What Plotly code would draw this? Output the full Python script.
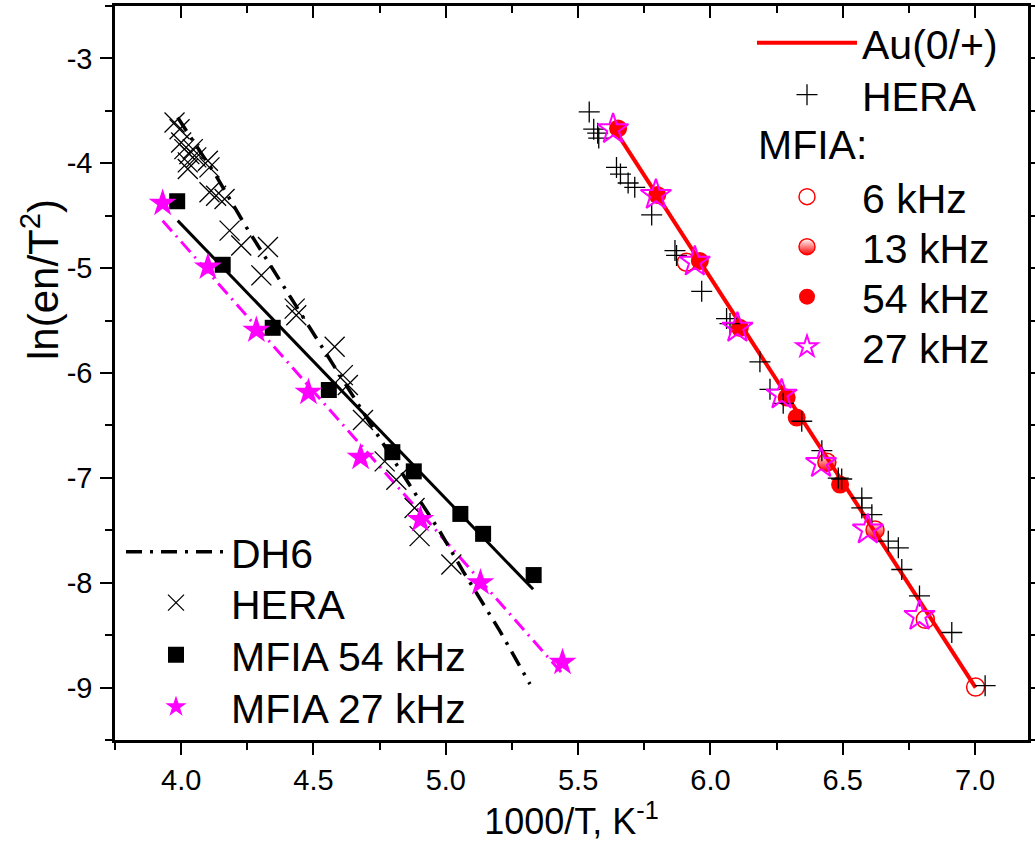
import plotly.graph_objects as go

# ---------------- Data: Au(0/+) group (right) ----------------
au_fit_x = [5.632, 7.002]
au_fit_y = [-3.656, -9.000]

hera_au_x = [5.542, 5.559, 5.574, 5.578, 5.645, 5.660, 5.689, 5.714, 5.778, 5.866,
             5.872, 5.967, 6.061, 6.074, 6.187, 6.225, 6.275, 6.345, 6.421, 6.483,
             6.496, 6.572, 6.572, 6.610, 6.672, 6.710, 6.723, 6.790, 6.912, 7.038]
hera_au_y = [-3.510, -3.675, -3.713, -3.760, -4.039, -4.103, -4.188, -4.229, -4.492, -4.832,
             -4.879, -5.221, -5.481, -5.529, -5.893, -6.156, -6.289, -6.460, -6.741, -7.002,
             -7.011, -7.192, -7.287, -7.351, -7.604, -7.667, -7.874, -8.126, -8.475, -8.982]

mfia6_x = [5.909, 6.812, 7.002]
mfia6_y = [-4.944, -8.349, -8.995]

mfia13_x = [6.440, 6.622]
mfia13_y = [-6.851, -7.497]

mfia54_au_x = [5.651, 5.799, 5.960, 6.111, 6.288, 6.326, 6.490]
mfia54_au_y = [-3.668, -4.302, -4.932, -5.569, -6.234, -6.425, -7.064]

mfia27_au_x = [5.632, 5.794, 5.941, 6.102, 6.269, 6.418, 6.595, 6.790]
mfia27_au_y = [-3.675, -4.302, -4.939, -5.569, -6.206, -6.859, -7.493, -8.317]

# ---------------- Data: DH6 group (left) ----------------
dh6_x = [3.987, 4.132, 4.246, 4.384, 4.498, 4.637, 4.750, 4.863, 4.977, 5.065, 5.204, 5.318]
dh6_y = [-3.564, -4.119, -4.609, -5.164, -5.607, -6.178, -6.622, -7.066, -7.509, -7.889, -8.459, -8.967]

hera_dh6_x = [3.975, 3.994, 4.000, 4.012, 4.031, 4.044, 4.025, 4.057, 4.101, 4.107,
              4.025, 4.107, 4.132, 4.164, 4.183, 4.227, 4.328, 4.303, 4.429, 4.435,
              4.580, 4.611, 4.630, 4.687, 4.769, 4.813, 4.882, 4.901, 5.021]
hera_dh6_y = [-3.611, -3.675, -3.801, -3.865, -3.913, -3.865, -3.991, -3.944, -3.976, -4.039,
              -4.055, -4.277, -4.309, -4.340, -4.642, -4.784, -4.799, -5.069, -5.386, -5.450,
              -5.750, -6.020, -6.115, -6.448, -6.843, -7.018, -7.287, -7.556, -7.826]

mfia54_x = [3.985, 4.157, 4.346, 4.558, 4.798, 4.879, 5.055, 5.141, 5.332]
mfia54_y = [-4.362, -4.968, -5.569, -6.162, -6.755, -6.938, -7.344, -7.534, -7.927]
fit54_x = [3.987, 5.330]
fit54_y = [-4.547, -8.063]

mfia27_x = [3.930, 4.101, 4.284, 4.481, 4.678, 4.904, 5.131, 5.441]
mfia27_y = [-4.381, -4.990, -5.592, -6.184, -6.805, -7.398, -8.000, -8.760]
fit27_x = [3.930, 5.443]
fit27_y = [-4.547, -8.872]

# ---------------- Axis ticks ----------------
x_tickvals = [4.0, 4.5, 5.0, 5.5, 6.0, 6.5, 7.0]
x_ticktext = ["4.0", "4.5", "5.0", "5.5", "6.0", "6.5", "7.0"]
y_tickvals = [-3, -4, -5, -6, -7, -8, -9]
y_ticktext = ["-3", "-4", "-5", "-6", "-7", "-8", "-9"]

FONT = "Liberation Sans, Arial, sans-serif"
RED = "#ff0000"
MAG = "#ff00ff"

# plot area in pixels (used only to place legends / labels)
PL, PR, PT, PB = 115, 1028, 6, 740


def px_x(p):
    return (p - PL) / (PR - PL)


def px_y(p):
    return (PB - p) / (PB - PT)


fig = go.Figure()

# ---- Left group ----
fig.add_trace(go.Scatter(x=fit54_x, y=fit54_y, mode="lines", showlegend=False,
                         line=dict(color="black", width=3)))
fig.add_trace(go.Scatter(x=fit27_x, y=fit27_y, mode="lines", showlegend=False,
                         line=dict(color=MAG, width=3, dash="14px,6px,2px,6px")))
fig.add_trace(go.Scatter(x=dh6_x, y=dh6_y, mode="lines", name="DH6", legend="legend7",
                         line=dict(color="black", width=3.5, dash="16px,8px,3px,8px")))
fig.add_trace(go.Scatter(x=hera_dh6_x, y=hera_dh6_y, mode="markers", name="HERA", legend="legend8",
                         marker=dict(symbol="x-thin", size=20, color="black",
                                     line=dict(color="black", width=1.3))))
fig.add_trace(go.Scatter(x=mfia54_x, y=mfia54_y, mode="markers", name="MFIA 54 kHz", legend="legend9",
                         marker=dict(symbol="square", size=16, color="black")))
fig.add_trace(go.Scatter(x=mfia27_x, y=mfia27_y, mode="markers", name="MFIA 27 kHz", legend="legend10",
                         marker=dict(symbol="star", size=21, color=MAG, line=dict(width=0))))

# ---- Right group ----
fig.add_trace(go.Scatter(x=mfia6_x, y=mfia6_y, mode="markers", name="6 kHz", legend="legend3",
                         marker=dict(symbol="circle-open", size=18, color=RED,
                                     line=dict(color=RED, width=1.5))))
fig.add_trace(go.Scatter(x=mfia13_x, y=mfia13_y, mode="markers", name="13 kHz", legend="legend4",
                         marker=dict(symbol="circle", size=18, color="white",
                                     gradient=dict(type="vertical", color=RED),
                                     line=dict(color=RED, width=1.5))))
fig.add_trace(go.Scatter(x=mfia54_au_x, y=mfia54_au_y, mode="markers", name="54 kHz", legend="legend5",
                         marker=dict(symbol="circle", size=18, color=RED, line=dict(width=0))))
fig.add_trace(go.Scatter(x=au_fit_x, y=au_fit_y, mode="lines", name="Au(0/+)", legend="legend",
                         line=dict(color=RED, width=4)))
fig.add_trace(go.Scatter(x=hera_au_x, y=hera_au_y, mode="markers", name="HERA", legend="legend2",
                         marker=dict(symbol="cross-thin", size=15, color="black",
                                     line=dict(color="black", width=1.3))))
fig.add_trace(go.Scatter(x=mfia27_au_x, y=mfia27_au_y, mode="markers", name="27 kHz", legend="legend6",
                         marker=dict(symbol="star-open", size=23, color=MAG,
                                     line=dict(color=MAG, width=2))))

# invisible trace to activate the top helper axis (inside ticks)
fig.add_trace(go.Scatter(x=[None], y=[None], xaxis="x2", yaxis="y", showlegend=False,
                         hoverinfo="skip"))

axis_common = dict(showgrid=False, zeroline=False, linecolor="black", linewidth=2.5,
                   tickcolor="black", tickwidth=2, ticklen=12, automargin=False)

LEG_FONT = dict(size=41, family=FONT, color="black")


def leg(line_start_px, center_px):
    return dict(x=px_x(line_start_px - 6), y=px_y(center_px), xanchor="left", yanchor="middle",
                bgcolor="rgba(0,0,0,0)", font=LEG_FONT, itemwidth=100, borderwidth=0)


layout_legends = {
    "legend": leg(758, 43),
    "legend2": leg(758, 95),
    "legend3": leg(758, 197),
    "legend4": leg(758, 247),
    "legend5": leg(758, 297),
    "legend6": leg(758, 347),
    "legend7": leg(127, 552),
    "legend8": leg(127, 603),
    "legend9": leg(127, 655),
    "legend10": leg(127, 707),
}

fig.update_layout(
    width=1035, height=859,
    margin=dict(l=PL, r=1035 - PR, t=PT, b=859 - PB),
    paper_bgcolor="white", plot_bgcolor="white",
    font=dict(family=FONT, color="black", size=29),
    xaxis=dict(range=[3.75, 7.2], tickmode="array", tickvals=x_tickvals, ticktext=x_ticktext,
               ticks="outside", showline=True, mirror=True,
               minor=dict(ticks="outside", dtick=0.25, tick0=3.75, ticklen=7, tickwidth=2,
                          tickcolor="black"),
               tickfont=dict(size=29), ticklabelstandoff=0,
               title=dict(text="1000/T, K<sup>-1</sup>", font=dict(size=36), standoff=8),
               **axis_common),
    yaxis=dict(range=[-9.5, -2.5], tickmode="array", tickvals=y_tickvals, ticktext=y_ticktext,
               ticks="outside", showline=True, mirror="ticks",
               minor=dict(ticks="outside", dtick=0.5, tick0=-9.5, ticklen=7, tickwidth=2,
                          tickcolor="black"),
               tickfont=dict(size=29), ticklabelstandoff=2,
               title=dict(text=""),
               **axis_common),
    xaxis2=dict(overlaying="x", side="top", matches="x", range=[3.75, 7.2],
                tickmode="array", tickvals=x_tickvals, showticklabels=False, ticks="inside",
                showline=False, automargin=False,
                minor=dict(ticks="inside", dtick=0.25, tick0=3.75, ticklen=7, tickwidth=2,
                           tickcolor="black"),
                showgrid=False, zeroline=False, tickcolor="black", tickwidth=2, ticklen=12),
    annotations=[
        dict(text="MFIA:", xref="paper", yref="paper", x=px_x(756), y=px_y(145), xanchor="left",
             yanchor="middle", showarrow=False, font=LEG_FONT),
        dict(text="ln(en/T<sup>2</sup>)", xref="paper", yref="paper", x=0, xshift=-75,
             y=px_y(280), xanchor="center", yanchor="middle", textangle=-90, showarrow=False,
             font=dict(size=42, family=FONT)),
    ],
    **layout_legends,
)

fig.write_html("out.html")
